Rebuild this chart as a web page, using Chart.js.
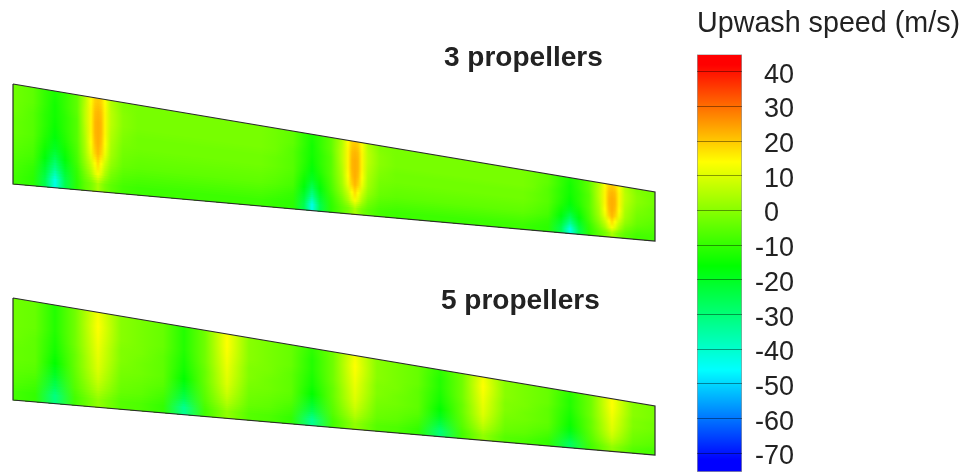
<!DOCTYPE html>
<html>
<head>
<meta charset="utf-8">
<title>Upwash speed</title>
<script src="https://cdn.jsdelivr.net/npm/chart.js@4/dist/chart.umd.js"></script>
<style>
  html, body { margin: 0; padding: 0; background: #fff; }
  body { position: relative; width: 966px; height: 472px; overflow: hidden; }
  canvas, .label { position: absolute; filter: blur(0.7px); }
  .label { font: bold 28px "Liberation Sans", sans-serif; color: #222; white-space: nowrap; }
</style>
</head>
<body>
<canvas id="wings" width="670" height="472" style="left:0;top:0"></canvas>
<canvas id="colorbar" width="269" height="472" style="left:697px;top:0"></canvas>
<div class="label" style="left:444px;top:41px">3 propellers</div>
<div class="label" style="left:441px;top:284px">5 propellers</div>

<script>
// wing outlines, span 0..642, plot height values at root and tip
const span = [0, 642];
const wing3Leading = [84, 192];
const wing3Trailing = [184, 241];
const wing5Leading = [298, 406];
const wing5Trailing = [400, 455];

// where each row of readings sits, fraction of the chord
const chordRows = [0, 0.11, 0.22, 0.33, 0.44, 0.55, 0.66, 0.77, 0.88];
const rowSoftening = 4; // layers used to fade one row into the next

// 3 propellers: upwash readings (m/s) along the span, one list per chord row
const wing3Stations = [0, 20, 32, 42, 52, 64, 72, 78, 82, 85, 88, 92, 98, 110, 125, 200, 248, 262, 280, 291, 299, 307, 318, 329, 335, 339, 342, 345, 349, 355, 367, 383, 460, 510, 520, 535, 548, 557, 566, 576, 586, 592, 596, 599, 602, 606, 612, 624, 642];
const wing3Row0 = [-3,-5,-10,-13,-10,-5, 5,14,19,20,19,14,5, -1,-2, -2, -2,-3, -5,-10,-13,-10,-5, 5,14,19,20,19,14,5, -1,-2, -2,-2,-3, -5,-10,-13,-10,-5, 5,14,19,20,19,14,5, -1,-3];
const wing3Row1 = [-3,-5,-10,-14,-10,-5, 6,15,21,22,21,15,6, 0,-2, -2, -2,-3, -5,-10,-14,-10,-5, 6,15,21,22,21,15,6, 0,-2, -2,-2,-3, -5,-10,-14,-10,-5, 6,15,21,22,21,15,6, 0,-3];
const wing3Row2 = [-3,-6,-11,-14,-11,-6, 6,15,22,23,22,15,6, 0,-2, -2, -2,-3, -6,-11,-14,-11,-6, 6,15,22,23,22,15,6, 0,-2, -2,-2,-3, -6,-11,-14,-11,-6, 6,15,22,23,22,15,6, 0,-3];
const wing3Row3 = [-4,-6,-11,-15,-11,-6, 5,15,22,23,22,15,5, -1,-3, -3, -3,-4, -6,-11,-15,-11,-6, 5,15,22,23,22,15,5, -1,-3, -3,-3,-4, -6,-11,-15,-11,-6, 5,15,22,23,22,15,5, -1,-4];
const wing3Row4 = [-4,-6,-12,-17,-12,-6, 4,14,21,23,21,14,4, -2,-3, -3, -3,-4, -6,-12,-17,-12,-6, 4,14,21,23,21,14,4, -2,-3, -3,-3,-4, -6,-12,-17,-12,-6, 4,14,21,23,21,14,4, -2,-4];
const wing3Row5 = [-5,-7,-14,-20,-14,-7, 3,12,19,22,19,12,3, -3,-4, -4, -4,-5, -7,-14,-20,-14,-7, 3,12,19,22,19,12,3, -3,-4, -4,-4,-5, -7,-14,-20,-14,-7, 3,12,19,22,19,12,3, -3,-5];
const wing3Row6 = [-6,-8,-17,-26,-17,-8, 1,8,14,18,14,8,1, -4,-5, -5, -5,-6, -8,-17,-26,-17,-8, 1,8,14,18,14,8,1, -4,-5, -5,-5,-6, -8,-17,-26,-17,-8, 1,8,14,18,14,8,1, -4,-6];
const wing3Row7 = [-7,-10,-21,-33,-21,-10, -2,4,10,13,10,4,-2, -6,-7, -7, -7,-8, -10,-21,-33,-21,-10, -2,4,10,13,10,4,-2, -6,-7, -7,-7,-8, -10,-21,-33,-21,-10, -2,4,10,13,10,4,-2, -6,-7];
const wing3Row8 = [-8,-11,-25,-43,-25,-11, -5,-2,1,4,1,-2,-5, -8,-9, -9, -9,-10, -11,-25,-43,-25,-11, -5,-2,1,4,1,-2,-5, -8,-9, -9,-9,-10, -11,-25,-43,-25,-11, -5,-2,1,4,1,-2,-5, -8,-8];

// 5 propellers
const wing5Stations = [0, 22, 42, 62, 85, 108, 128, 150, 171, 192, 214, 236, 256, 278, 299, 320, 342, 364, 384, 405, 427, 449, 470, 492, 512, 535, 557, 578, 599, 620, 642];
const wing5Row0 = [-3,-4,-12,-3,13,0,-2,-4,-12,-3,14,0,-2,-4,-11,-3,13,0,-2,-4,-11,-3,13,0,-2,-4,-11,-3,14,0,-2];
const wing5Row1 = [-3,-4,-12,-3,14,0,-2,-4,-12,-3,14,0,-2,-4,-12,-3,14,0,-2,-4,-12,-3,14,0,-2,-4,-12,-3,14,0,-2];
const wing5Row2 = [-3,-4,-12,-3,13,0,-2,-4,-12,-3,13,0,-2,-4,-12,-3,13,0,-2,-4,-12,-3,13,0,-2,-4,-12,-3,13,0,-2];
const wing5Row3 = [-3,-5,-13,-3,12,-1,-2,-5,-13,-3,12,-1,-2,-5,-13,-3,12,-1,-2,-5,-13,-3,12,-1,-2,-5,-13,-3,12,-1,-3];
const wing5Row4 = [-4,-5,-14,-4,11,-1,-3,-5,-14,-4,11,-1,-3,-5,-14,-4,11,-1,-3,-5,-14,-4,11,-1,-3,-5,-14,-4,11,-1,-3];
const wing5Row5 = [-4,-5,-16,-4,10,-2,-3,-5,-16,-4,10,-2,-3,-5,-16,-4,10,-2,-3,-5,-16,-4,10,-2,-3,-5,-15,-4,10,-2,-4];
const wing5Row6 = [-5,-6,-20,-5,8,-3,-4,-6,-20,-5,8,-3,-4,-6,-20,-5,8,-3,-4,-6,-19,-5,8,-3,-4,-6,-18,-5,8,-3,-5];
const wing5Row7 = [-6,-8,-25,-6,5,-4,-5,-8,-25,-6,5,-4,-5,-8,-25,-6,5,-4,-5,-8,-24,-6,5,-4,-5,-8,-22,-6,5,-4,-6];
const wing5Row8 = [-8,-10,-31,-8,1,-6,-7,-10,-33,-8,1,-6,-7,-10,-33,-8,1,-6,-7,-10,-30,-8,1,-6,-7,-10,-27,-8,1,-6,-8];

// colour bar
const barRange = [-75.4, 45];
const barTicks = [40, 30, 20, 10, 0, -10, -20, -30, -40, -50, -60, -70];
const mapValues = [-72, -46, -16, 14, 42];
const mapColors = [[0, 0, 255], [0, 255, 255], [0, 255, 0], [255, 255, 0], [255, 0, 0]];

function colorOf(v, alpha) {
  let c = mapColors[mapColors.length - 1];
  if (v <= mapValues[0]) {
    c = mapColors[0];
  } else {
    for (let i = 1; i < mapValues.length; i++) {
      if (v <= mapValues[i]) {
        const t = (v - mapValues[i - 1]) / (mapValues[i] - mapValues[i - 1]);
        c = mapColors[i].map((hi, k) => Math.round(mapColors[i - 1][k] + (hi - mapColors[i - 1][k]) * t));
        break;
      }
    }
  }
  return `rgba(${c.join(",")},${alpha})`;
}

// horizontal gradient of one chord row, placed with the x scale
function rowFill(stations, values, alpha) {
  return (ctx) => {
    const chart = ctx.chart;
    if (!chart.chartArea) return "#6f0";
    const x = chart.scales.x;
    const x0 = x.getPixelForValue(span[0]);
    const x1 = x.getPixelForValue(span[1]);
    const g = chart.ctx.createLinearGradient(x0, 0, x1, 0);
    stations.forEach((s, i) => g.addColorStop((s - span[0]) / (span[1] - span[0]), colorOf(values[i], alpha)));
    return g;
  };
}

function wingDatasets(leading, trailing, stations, rows, startIndex) {
  const chordLine = (f) => span.map((s, i) => ({ x: s, y: leading[i] + (trailing[i] - leading[i]) * f }));
  const sets = [{
    data: chordLine(1), borderWidth: 0, pointRadius: 0, fill: false, order: 5000
  }];
  rows.forEach((values, r) => {
    const band = r > 0 ? chordRows[r] - chordRows[r - 1] : 0;
    const layers = r > 0 ? rowSoftening : 1;
    for (let k = 0; k < layers; k++) {
      // each layer covers more of what is under it, so the row above fades out
      sets.push({
        data: chordLine(chordRows[r] + band * (k / layers - 0.5)),
        borderWidth: 0,
        pointRadius: 0,
        fill: startIndex,
        backgroundColor: rowFill(stations, values, 1 / (layers - k)),
        order: 4000 - r * 100 - k
      });
    }
  });
  sets.push({
    data: [
      { x: span[0], y: leading[0] }, { x: span[1], y: leading[1] },
      { x: span[1], y: trailing[1] }, { x: span[0], y: trailing[0] },
      { x: span[0], y: leading[0] }
    ],
    borderColor: "#2b2b2b",
    borderWidth: 1.2,
    pointRadius: 0,
    fill: false,
    clip: 3,
    order: 0
  });
  return sets;
}

const wing3Rows = [wing3Row0, wing3Row1, wing3Row2, wing3Row3, wing3Row4, wing3Row5, wing3Row6, wing3Row7, wing3Row8];
const wing5Rows = [wing5Row0, wing5Row1, wing5Row2, wing5Row3, wing5Row4, wing5Row5, wing5Row6, wing5Row7, wing5Row8];

const wing3Sets = wingDatasets(wing3Leading, wing3Trailing, wing3Stations, wing3Rows, 0);
const wing5Sets = wingDatasets(wing5Leading, wing5Trailing, wing5Stations, wing5Rows, wing3Sets.length);

new Chart(document.getElementById("wings"), {
  type: "line",
  data: { datasets: wing3Sets.concat(wing5Sets) },
  options: {
    responsive: false,
    animation: false,
    events: [],
    layout: { padding: { left: 13, right: 15, top: 0, bottom: 0 } },
    plugins: { legend: { display: false }, tooltip: { enabled: false } },
    scales: {
      x: { type: "linear", display: false, min: span[0], max: span[1] },
      y: { display: false, min: 0, max: 472, reverse: true }
    }
  }
});

new Chart(document.getElementById("colorbar"), {
  type: "bar",
  data: {
    labels: ["Upwash speed"],
    datasets: [{
      data: [barRange],
      barPercentage: 1,
      categoryPercentage: 1,
      borderWidth: 1,
      borderSkipped: false,
      borderColor: "rgba(70,70,70,0.55)",
      backgroundColor: (ctx) => {
        const chart = ctx.chart;
        if (!chart.chartArea) return "#0f0";
        const y = chart.scales.y;
        const g = chart.ctx.createLinearGradient(0, y.getPixelForValue(barRange[0]), 0, y.getPixelForValue(barRange[1]));
        const range = barRange[1] - barRange[0];
        mapValues.forEach((v, i) => g.addColorStop((v - barRange[0]) / range, `rgb(${mapColors[i].join(",")})`));
        return g;
      }
    }]
  },
  options: {
    responsive: false,
    animation: false,
    events: [],
    plugins: {
      legend: { display: false },
      tooltip: { enabled: false },
      title: {
        display: true,
        text: "Upwash speed (m/s)",
        align: "start",
        color: "#222",
        font: { family: "Liberation Sans", size: 28.7, weight: "normal", lineHeight: 1.2 },
        padding: { top: 7, bottom: 13 }
      }
    },
    scales: {
      x: { display: false },
      y: {
        position: "right",
        min: barRange[0],
        max: barRange[1],
        afterBuildTicks: (scale) => { scale.ticks = barTicks.map((v) => ({ value: v })); },
        afterFit: (scale) => { scale.width = 224; scale.paddingBottom = 0; scale.paddingTop = 0; },
        border: { display: false },
        grid: { color: "rgba(0,0,0,0.4)", drawTicks: false, z: 1 },
        ticks: {
          autoSkip: false,
          padding: 13,
          crossAlign: "near",
          color: "#222",
          // the empty first line with this small line height drops the labels a little below their tick
          font: { family: "Liberation Sans", size: 27, lineHeight: "7px" },
          // plus labels start where the digits of the minus labels start
          callback: (v) => ["", v < 0 ? String(v) : "\u2004" + v]
        }
      }
    }
  }
});
</script>
</body>
</html>
